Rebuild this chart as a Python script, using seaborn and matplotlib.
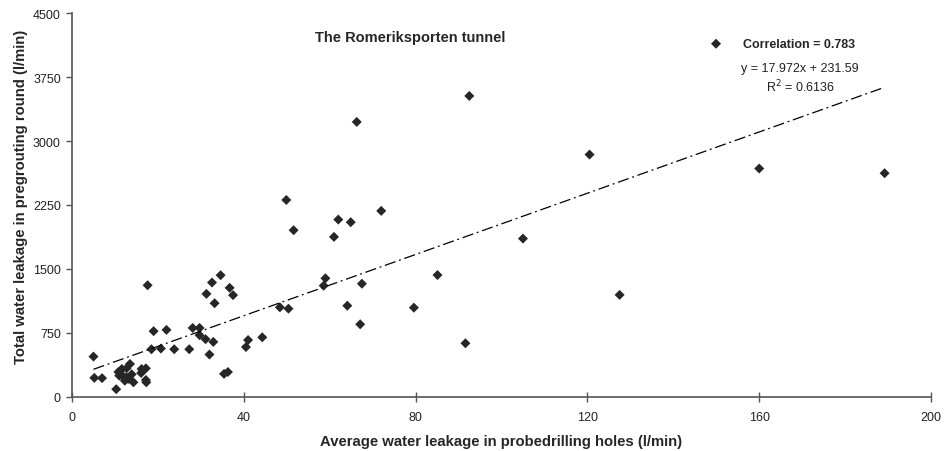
import numpy as np
import pandas as pd
import seaborn as sns
import matplotlib.pyplot as plt

sns.set_theme(style="ticks")
plt.rcParams['font.family'] = ['Liberation Sans', 'DejaVu Sans']

# Average water leakage in probedrilling holes (l/min)
probe = [5.0, 5.2, 7.0, 10.3,
         11.6, 12.7, 13.5, 11.0, 11.9, 12.7, 13.9, 14.3, 12.3, 13.1, 10.8,
         16.2, 17.2, 16.1, 17.2, 17.3,
         17.6, 19.0, 22.0, 18.5, 20.7, 23.8, 27.3,
         28.1, 29.7, 29.7, 31.1, 32.9, 32.0,
         31.3, 32.6, 33.2, 34.6, 36.7, 37.5,
         35.4, 36.3,
         40.5, 41.0, 44.3,
         48.4, 50.4, 49.9, 51.6,
         59.0, 58.6, 61.0, 62.0, 64.9, 66.3, 67.5, 67.1, 64.1, 72.0,
         79.6, 85.1, 91.6, 92.5, 105.0, 120.5, 127.5, 160.0, 189.2]
# Total water leakage in pregrouting round (l/min)
total = [471, 221, 218, 88,
         325, 333, 384, 247, 240, 228, 263, 169, 188, 208, 290,
         325, 333, 278, 196, 169,
         1308, 769, 784, 557, 565, 557, 557,
         807, 807, 722, 675, 643, 495,
         1207, 1340, 1097, 1426, 1278, 1192,
         268, 290,
         583, 665, 697,
         1049, 1033, 2309, 1954,
         1390, 1303, 1876, 2079, 2048, 3225, 1326, 850, 1068, 2181,
         1045, 1428, 627, 3530, 1856, 2842, 1195, 2678, 2623]

slope = 17.972
intercept = 231.59
r_squared = 0.6136
correlation = 0.783

x_ticks = [0, 40, 80, 120, 160, 200]
y_ticks = [0, 750, 1500, 2250, 3000, 3750, 4500]

df = pd.DataFrame({"probe": probe, "total": total})

W, H = 946, 452
fig = plt.figure(figsize=(W / 100, H / 100), dpi=100)
left, right, top, bottom = 72, 931, 14.3, 397.7
ax = fig.add_axes([left / W, (H - bottom) / H, (right - left) / W, (bottom - top) / H])

sns.scatterplot(data=df, x="probe", y="total", marker="D", s=26,
                color="#262626", edgecolor="none", ax=ax,
                label=f"Correlation = {correlation}")

xs = np.array([min(probe), max(probe)])
ax.plot(xs, slope * xs + intercept, color="black", lw=0.9,
        linestyle=(0, (9, 3, 1.5, 3)))

ax.set_xlim(0, 200)
ax.set_ylim(0, 4500)
ax.set_xticks(x_ticks)
ax.set_yticks(y_ticks)
ax.set_xticklabels([str(t) for t in x_ticks])
ax.set_yticklabels([str(t) for t in y_ticks])
ax.tick_params(axis="x", direction="inout", length=7, width=1, color="#555555",
               labelsize=9, pad=7, labelcolor="#222222")
ax.tick_params(axis="y", direction="out", length=4, width=1, color="#555555",
               labelsize=9, pad=4, labelcolor="#222222")
for s in ["top", "right"]:
    ax.spines[s].set_visible(False)
for s in ["left", "bottom"]:
    ax.spines[s].set_color("#555555")
    ax.spines[s].set_linewidth(1.2)

ax.set_xlabel("Average water leakage in probedrilling holes (l/min)",
              fontsize=10.7, fontweight="bold", labelpad=8)
ax.set_ylabel("Total water leakage in pregrouting round (l/min)",
              fontsize=10.7, fontweight="bold")
ax.yaxis.set_label_coords(-0.0512, 0.523)

fig.text(410 / W, 1 - 38 / H, "The Romeriksporten tunnel", ha="center",
         va="center", fontsize=10.5, fontweight="bold")

leg = ax.legend(loc="center left", bbox_to_anchor=(710.4 / W, 1 - 45 / H),
                bbox_transform=fig.transFigure, frameon=False,
                prop={"weight": "bold", "size": 9}, handlelength=0.9,
                handletextpad=1.7, borderpad=0, borderaxespad=0)

fig.text(800 / W, 1 - 69 / H, f"y = {slope}x + {intercept}", ha="center",
         va="center", fontsize=9, color="#222222")
fig.text(800 / W, 1 - 87 / H, f"R$^{{2}}$ = {r_squared}", ha="center",
         va="center", fontsize=9, color="#222222")

fig.savefig("out.png", dpi=100)
